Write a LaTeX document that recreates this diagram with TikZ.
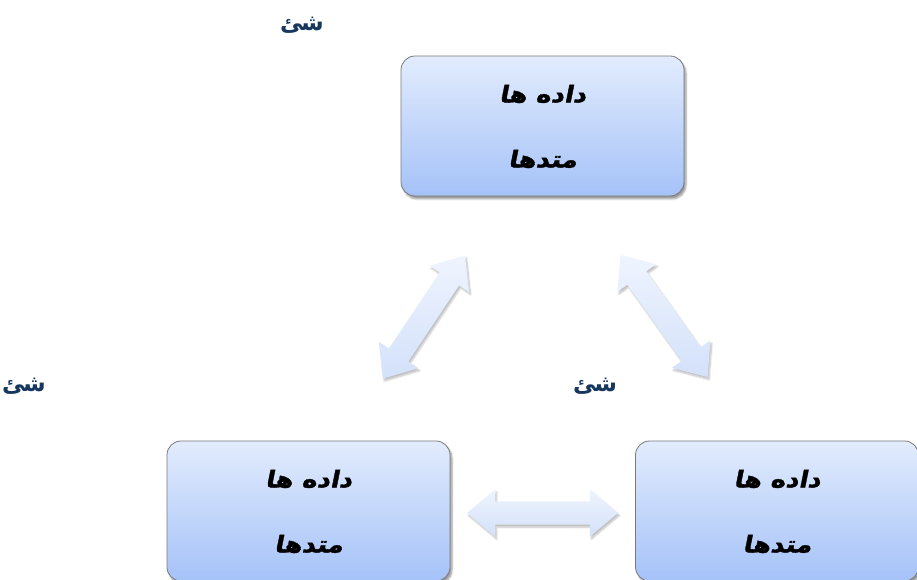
\documentclass[tikz,border=0pt]{standalone}
\usepackage{fontspec}
\TeXXeTstate=1
\newfontfamily\arabicfont[Script=Arabic]{DejaVu Sans Bold}
\newfontfamily\arabicbi[Script=Arabic,FakeSlant=0.2,FakeStretch=1.12,FakeBold=1.5]{DejaVu Sans Bold}
\usetikzlibrary{shapes.arrows,shadows.blur}
\definecolor{boxtop}{HTML}{E2ECFD}
\definecolor{boxbot}{HTML}{A5C2F8}
\definecolor{boxline}{HTML}{7A7A7A}
\definecolor{arrowlight}{HTML}{EFF4FE}
\definecolor{arrowdark}{HTML}{D3E1FA}
\definecolor{labelblue}{HTML}{17375E}
\tikzset{
  classbox/.style={draw=boxline, line width=0.8pt, rounded corners=14pt,
    minimum width=283pt, minimum height=140pt, inner sep=0pt,
    top color=boxtop, bottom color=boxbot,
    blur shadow={shadow xshift=2pt, shadow yshift=-3pt, shadow opacity=40, shadow blur steps=6}},
  boxtext/.style={font=\arabicbi\fontsize{23}{27}\selectfont, text=black, inner sep=0pt},
  objlabel/.style={font=\arabicfont\fontsize{23}{27}\selectfont, text=labelblue, inner sep=0pt},
  linkarrow/.style={double arrow, draw=none, inner xsep=0pt, inner ysep=11.5pt,
    double arrow head extend=12pt,
    double arrow tip angle=80,
    shading angle=0, top color=arrowlight, bottom color=arrowdark,
    blur shadow={shadow xshift=1.5pt, shadow yshift=-2.5pt, shadow opacity=25, shadow blur steps=6}},
}
\begin{document}
\begin{tikzpicture}[x=1pt,y=1pt]
  \useasboundingbox (0,0) rectangle (917,580);

  % three class boxes
  \node[classbox] (top)   at (542.5,454) {};
  \node[classbox] (left)  at (308.5,69)  {};
  \node[classbox] (right) at (777,69)    {};

  % contents of each box: data and methods
  \foreach \b in {top,left,right}{
    \node[boxtext] (\b-data) at ([yshift=32pt]\b.center) {\beginR داده ها\endR};
    \node[boxtext] (\b-meth) at ([yshift=-33pt]\b.center) {\beginR متدها\endR};
  }

  % object labels
  \node[objlabel] (obj-top)   at (302,555) {\beginR شئ\endR};
  \node[objlabel] (obj-left)  at (24,194)  {\beginR شئ\endR};
  \node[objlabel] (obj-right) at (595,194) {\beginR شئ\endR};

  % two-way links between the objects
  \node[linkarrow, minimum height=148pt, rotate=56.3]  (link-lt) at (424,263) {};
  \node[linkarrow, minimum height=150pt, rotate=-54.5] (link-rt) at (664,264) {};
  \node[linkarrow, minimum height=151pt]               (link-lr) at (542.5,67) {};
\end{tikzpicture}
\end{document}
